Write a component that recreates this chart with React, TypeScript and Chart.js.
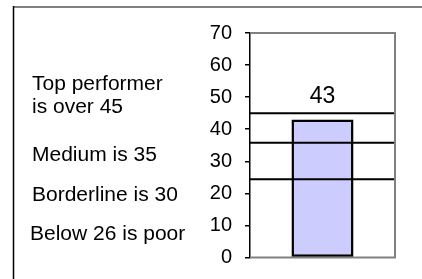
import React, { useEffect, useRef } from "react";
import { Chart, registerables } from "chart.js";

Chart.register(...registerables);

// ---- data ----
const categories = [""];
const scores = [43];
const thresholds = [45, 35.8, 24.4];
const yTicks = [0, 10, 20, 30, 40, 50, 60, 70];
const noteLines = [
  "Top performer",
  "is over 45",
  "Medium is 35",
  "Borderline is 30",
  "Below 26 is poor",
];

const FONT = "'Liberation Sans', Arial, sans-serif";

export default function App() {
  const ref = useRef<HTMLCanvasElement | null>(null);

  useEffect(() => {
    if (!ref.current) return;

    const decor = {
      id: "decor",
      beforeDraw(chart: any) {
        const { ctx } = chart;
        ctx.save();
        ctx.fillStyle = "#ffffff";
        ctx.fillRect(0, 0, chart.width, chart.height);
        // outer frame
        ctx.strokeStyle = "#808080";
        ctx.lineWidth = 2;
        ctx.beginPath();
        ctx.moveTo(13, 7);
        ctx.lineTo(chart.width, 7);
        ctx.stroke();
        ctx.strokeStyle = "#000000";
        ctx.lineWidth = 1.5;
        ctx.beginPath();
        ctx.moveTo(13.5, 6);
        ctx.lineTo(13.5, chart.height);
        ctx.stroke();
        // notes
        ctx.fillStyle = "#000000";
        ctx.font = `20px ${FONT}`;
        ctx.textAlign = "left";
        ctx.textBaseline = "alphabetic";
        const xs = [32, 32, 32, 32, 30];
        const ys = [89.5, 112.5, 161, 201, 239.5];
        noteLines.forEach((t, i) => {
          ctx.save();
          ctx.translate(xs[i], ys[i]);
          ctx.scale(1.05, 1);
          ctx.fillText(t, 0, 0);
          ctx.restore();
        });
        ctx.restore();
      },
      beforeDatasetsDraw(chart: any) {
        const { ctx, chartArea: a } = chart;
        ctx.save();
        ctx.strokeStyle = "#808080";
        ctx.lineWidth = 2;
        ctx.beginPath();
        ctx.moveTo(a.left, a.top);
        ctx.lineTo(a.right, a.top);
        ctx.lineTo(a.right, a.bottom);
        ctx.lineTo(a.left, a.bottom);
        ctx.stroke();
        ctx.restore();
      },
      afterDatasetsDraw(chart: any) {
        const { ctx, chartArea: a } = chart;
        const y = chart.scales.y;
        ctx.save();
        ctx.strokeStyle = "#000000";
        ctx.lineWidth = 2;
        thresholds.forEach((v) => {
          const py = y.getPixelForValue(v);
          ctx.beginPath();
          ctx.moveTo(a.left, py);
          ctx.lineTo(a.right - 1, py);
          ctx.stroke();
        });
        // value label
        const meta = chart.getDatasetMeta(0);
        ctx.fillStyle = "#000000";
        ctx.font = `23px ${FONT}`;
        ctx.textAlign = "center";
        ctx.textBaseline = "alphabetic";
        meta.data.forEach((el: any, i: number) => {
          ctx.fillText(String(scores[i]), el.x, el.y - 17);
        });
        ctx.restore();
      },
    };

    const chart = new Chart(ref.current, {
      type: "bar",
      data: {
        labels: categories,
        datasets: [
          {
            data: scores,
            backgroundColor: "#CCCCFF",
            borderColor: "#000000",
            borderWidth: 2.5,
            borderSkipped: false,
            barPercentage: 0.428,
            categoryPercentage: 1,
          },
        ],
      },
      options: {
        responsive: false,
        animation: false,
        events: [],
        layout: { padding: { left: 0, right: 27, top: 33, bottom: 21.5 } },
        plugins: {
          legend: { display: false },
          tooltip: { enabled: false },
          title: { display: false },
        },
        scales: {
          x: { display: false },
          y: {
            min: 0,
            max: 70,
            afterBuildTicks(scale: any) {
              scale.ticks = yTicks.map((v) => ({ value: v }));
            },
            afterFit(scale: any) {
              scale.width = 250;
              scale.paddingTop = 0;
              scale.paddingBottom = 0;
            },
            ticks: {
              color: "#000000",
              font: { family: FONT, size: 20 },
              padding: 13,
            },
            grid: {
              drawOnChartArea: false,
              drawTicks: true,
              tickLength: 5,
              color: "#000000",
              lineWidth: 1.5,
            },
            border: { display: true, color: "#000000", width: 1.5 },
          },
        },
      },
      plugins: [decor],
    });

    return () => chart.destroy();
  }, []);

  return (
    <div style={{ position: "absolute", left: 0, top: 0, width: 422, height: 279 }}>
      <canvas ref={ref} width={422} height={279} />
    </div>
  );
}
